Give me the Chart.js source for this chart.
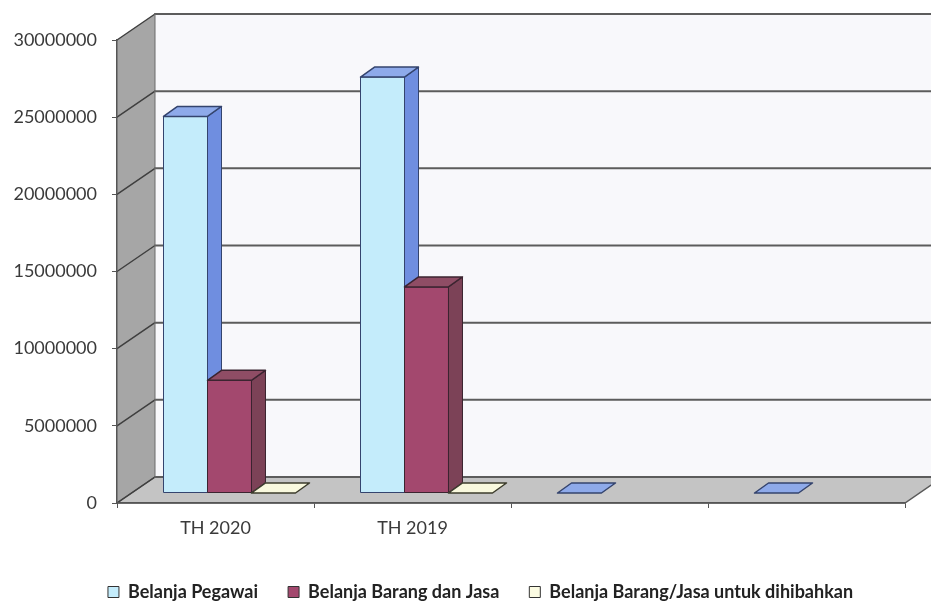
<!DOCTYPE html>
<html>
<head>
<meta charset="utf-8">
<script src="https://cdn.jsdelivr.net/npm/chart.js@4.4.1/dist/chart.umd.min.js"></script>
<style>
  html, body { margin: 0; padding: 0; background: #ffffff; }
  canvas { display: block; }
</style>
</head>
<body>
<canvas id="chart" width="931" height="616"></canvas>
<script>
// Budget realisation per year
const categories = ['TH 2020', 'TH 2019', '', ''];
const seriesNames = ['Belanja Pegawai', 'Belanja Barang dan Jasa', 'Belanja Barang/Jasa untuk dihibahkan'];
const belanjaPegawai = [24400000, 26950000, 0, 0];
const belanjaBarangJasa = [7300000, 13350000, null, null];
const belanjaHibah = [0, 0, null, null];
const yTickValues = [0, 5000000, 10000000, 15000000, 20000000, 25000000, 30000000];

// Oblique projection used for the walls, floor and the column boxes
const DEPTH = { dx: 38, dy: -26 };      // full depth of the plot box
const BAR_SHIFT = { dx: 14, dy: -10 };  // columns stand this far behind the front plane
const BAR_DEPTH = { dx: 14, dy: -10 };  // thickness of each column
const LEGEND_SHIFT = 28;                // legend row sits a little right of centre

const faceColors = [
  { front: '#c4ecfb', side: '#6f8ee0', top: '#8eaaea', edge: '#34446e' },
  { front: '#a3486e', side: '#7c4257', top: '#8f4d65', edge: '#3b2430' },
  { front: '#fbfbe2', side: '#d9d9b4', top: '#f9f9de', edge: '#3c3c2c' }
];

function fillPoly(ctx, pts, fill, stroke, lw) {
  ctx.beginPath();
  ctx.moveTo(pts[0][0], pts[0][1]);
  for (let k = 1; k < pts.length; k++) ctx.lineTo(pts[k][0], pts[k][1]);
  ctx.closePath();
  if (fill) { ctx.fillStyle = fill; ctx.fill(); }
  if (stroke) { ctx.strokeStyle = stroke; ctx.lineWidth = lw || 1; ctx.stroke(); }
}

const box3d = {
  id: 'box3d',
  afterLayout(chart) {
    if (chart.legend) {
      chart.legend.left += LEGEND_SHIFT;
      chart.legend.right += LEGEND_SHIFT;
    }
  },
  beforeDraw(chart) {
    const { ctx, chartArea: a, scales: { y } } = chart;
    const L = a.left, R = a.right;
    const T = y.getPixelForValue(y.max), B = y.getPixelForValue(0);
    const { dx, dy } = DEPTH;
    ctx.save();
    // back wall
    fillPoly(ctx, [[L + dx, T + dy], [R + dx, T + dy], [R + dx, B + dy], [L + dx, B + dy]], '#f8f8fb');
    // side wall
    fillPoly(ctx, [[L, T], [L + dx, T + dy], [L + dx, B + dy], [L, B]], '#a6a6a6');
    // floor
    fillPoly(ctx, [[L, B], [R, B], [R + dx, B + dy], [L + dx, B + dy]], '#c4c4c4', '#5a5a5a', 1.5);
    // grid lines running across the side wall and the back wall
    ctx.lineCap = 'round';
    y.ticks.forEach(t => {
      const py = y.getPixelForValue(t.value);
      ctx.beginPath();
      ctx.moveTo(L, py);
      ctx.lineTo(L + dx, py + dy);
      ctx.strokeStyle = '#3f3f3f';
      ctx.lineWidth = 1.5;
      ctx.stroke();
      ctx.beginPath();
      ctx.moveTo(L + dx, py + dy);
      ctx.lineTo(R + dx, py + dy);
      ctx.strokeStyle = '#5c5c5c';
      ctx.lineWidth = 2;
      ctx.stroke();
    });
    // back corner edge
    ctx.beginPath();
    ctx.moveTo(L + dx, T + dy);
    ctx.lineTo(L + dx, B + dy);
    ctx.strokeStyle = '#6a6a6a';
    ctx.lineWidth = 1;
    ctx.stroke();
    ctx.restore();
  },
  beforeDatasetsDraw(chart) {
    const { ctx } = chart;
    ctx.save();
    ctx.lineJoin = 'round';
    chart.data.labels.forEach((_, i) => {
      chart.data.datasets.forEach((ds, d) => {
        if (ds.data[i] === null || ds.data[i] === undefined) return;
        const el = chart.getDatasetMeta(d).data[i];
        const p = el.getProps(['x', 'y', 'base', 'width'], true);
        const c = faceColors[d];
        const x0 = p.x - p.width / 2 + BAR_SHIFT.dx;
        const x1 = p.x + p.width / 2 + BAR_SHIFT.dx;
        const yt = p.y + BAR_SHIFT.dy;
        const yb = p.base + BAR_SHIFT.dy;
        const bx = BAR_DEPTH.dx, by = BAR_DEPTH.dy;
        if (yb - yt > 0.5) {
          fillPoly(ctx, [[x0, yt], [x1, yt], [x1, yb], [x0, yb]], c.front, c.edge, 1);
          fillPoly(ctx, [[x1, yt], [x1 + bx, yt + by], [x1 + bx, yb + by], [x1, yb]], c.side, c.edge, 1);
        }
        fillPoly(ctx, [[x0, yt], [x1, yt], [x1 + bx, yt + by], [x0 + bx, yt + by]], c.top, c.edge, 1.5);
      });
    });
    ctx.restore();
    return false;
  }
};

const tickFont = { family: 'Lato', size: 18 };

new Chart(document.getElementById('chart'), {
  type: 'bar',
  data: {
    labels: categories,
    datasets: [
      { label: seriesNames[0], data: belanjaPegawai, backgroundColor: faceColors[0].front, borderColor: '#333333', borderWidth: 1 },
      { label: seriesNames[1], data: belanjaBarangJasa, backgroundColor: faceColors[1].front, borderColor: '#333333', borderWidth: 1 },
      { label: seriesNames[2], data: belanjaHibah, backgroundColor: faceColors[2].front, borderColor: '#333333', borderWidth: 1 }
    ]
  },
  options: {
    responsive: false,
    animation: false,
    devicePixelRatio: 1,
    categoryPercentage: 0.67,
    barPercentage: 1,
    layout: { padding: { left: 0, right: 26, top: 40, bottom: 5 } },
    plugins: {
      tooltip: { enabled: false },
      legend: {
        position: 'bottom',
        labels: {
          font: { family: 'Lato', size: 18, weight: 'bold' },
          color: '#222222',
          boxWidth: 11,
          boxHeight: 11,
          padding: 30
        }
      }
    },
    scales: {
      x: {
        grid: { display: true, drawOnChartArea: false, drawTicks: true, tickLength: 5, color: '#555555', offset: true },
        border: { display: true, color: '#555555', width: 1.5 },
        ticks: { font: tickFont, color: '#3a3a3a', padding: 9, maxRotation: 0 },
        afterFit(scale) { scale.height = 50; }
      },
      y: {
        min: 0,
        max: 30000000,
        afterBuildTicks(scale) { scale.ticks = yTickValues.map(v => ({ value: v })); },
        grid: { display: true, drawOnChartArea: false, drawTicks: true, tickLength: 5, color: '#555555' },
        border: { display: true, color: '#555555', width: 1.5 },
        ticks: { font: tickFont, color: '#3a3a3a', padding: 15, callback: v => String(v) },
        afterFit(scale) { scale.width = 117; }
      }
    }
  },
  plugins: [box3d]
});
</script>
</body>
</html>
